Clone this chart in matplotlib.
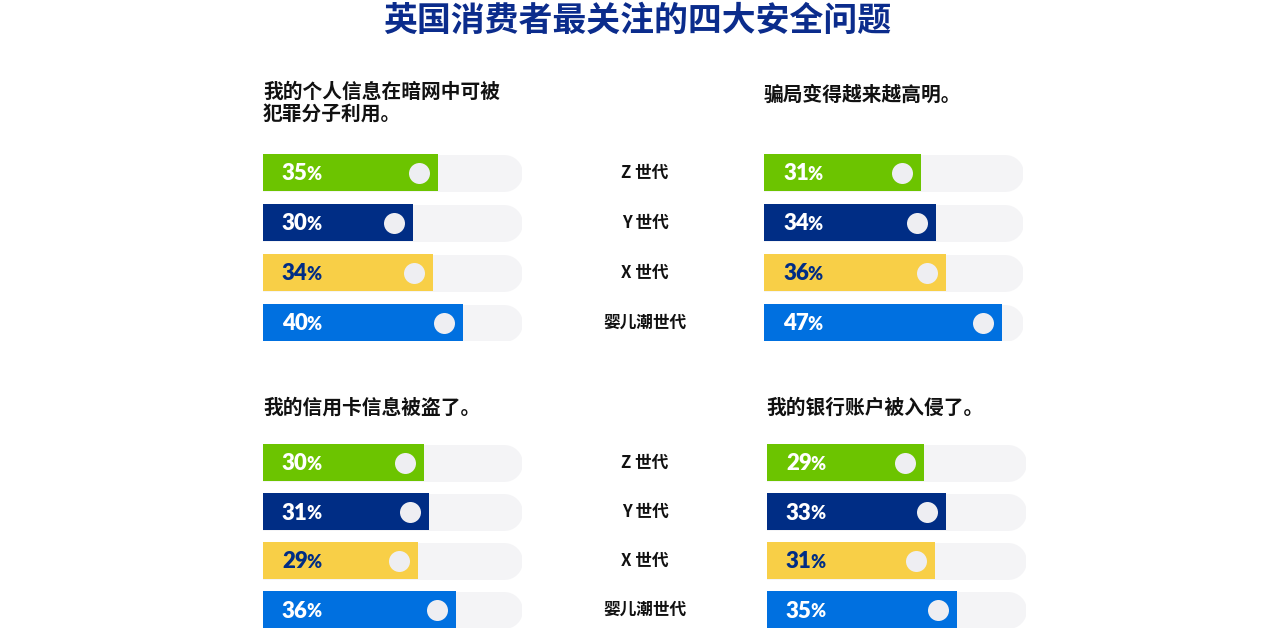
import matplotlib
matplotlib.use('Agg')
from matplotlib import pyplot as plt
from matplotlib.transforms import offset_copy

plt.rcParams['font.family'] = ['Noto Sans CJK SC', 'DejaVu Sans']

W, H, DPI = 1280, 643, 100

title = '英国消费者最关注的四大安全问题'
generations = ['Z 世代', 'Y 世代', 'X 世代', '婴儿潮世代']
panel_titles = ['我的个人信息在暗网中可被\n犯罪分子利用。',
                '骗局变得越来越高明。',
                '我的信用卡信息被盗了。',
                '我的银行账户被入侵了。']
dark_web = [35, 30, 34, 40]
scams = [31, 34, 36, 47]
credit_card = [30, 31, 29, 36]
bank_hacked = [29, 33, 31, 35]
panel_values = [dark_web, scams, credit_card, bank_hacked]
# percent reached at the right end of the grey track in each panel
track_max = [51.8, 51.1, 48.4, 47.7]

bar_colors = ['#6cc400', '#002d85', '#f8cf47', '#0070e0']
text_colors = ['white', 'white', '#002d85', 'white']
track_color = '#f4f4f6'
dot_color = '#eeeef2'
title_color = '#0b2c8c'

# pixel layout: left, top, width, height, title x, title y
panels = [(263, 154, 259, 187, 263, 103),
          (764, 154, 259, 187, 764, 95),
          (263, 444, 259, 184, 263, 408),
          (767, 444, 259, 184, 766, 408)]
bar_px = 37
dot_px = 21
pt = 72.0 / DPI

fig = plt.figure(figsize=(W / DPI, H / DPI), dpi=DPI)
fig.patch.set_facecolor('white')

fig.text(637 / W, 1 - 20 / H, title, ha='center', va='center',
         fontsize=24.4, fontweight='black', color=title_color)

for k, (left, top, width, height, tx, ty) in enumerate(panels):
    ax = fig.add_axes([left / W, 1 - (top + height) / H, width / W, height / H])
    ax.set_axis_off()
    step = (height - bar_px) / 3.0
    h = bar_px / step
    ax.set_xlim(0, track_max[k])
    ax.set_ylim(3 + h / 2, -h / 2)

    vals = panel_values[k]
    track_end = track_max[k] * (1 - (bar_px / 2.0) / width)
    for i, v in enumerate(vals):
        ax.plot([0, track_end], [i, i], color=track_color, lw=bar_px * pt,
                solid_capstyle='round', zorder=1)
        ax.barh(i, v, height=h, color=bar_colors[i], zorder=2)
        ax.plot([v], [i], 'o', ms=dot_px * pt, color=dot_color, mec='none',
                zorder=3, transform=offset_copy(ax.transData, x=-19, units='dots'))
        num = ax.text(0, i, str(v), fontsize=16, fontweight='heavy',
                      family=['Lato', 'DejaVu Sans'], color=text_colors[i],
                      ha='left', va='baseline', zorder=4,
                      transform=offset_copy(ax.transData, x=19, y=-8, units='dots'))
        ax.annotate('%', xy=(1, 0), xycoords=num, xytext=(-0.8, 0.9),
                    textcoords='offset points', fontsize=13, fontweight='heavy',
                    family=['Lato', 'DejaVu Sans'], color=text_colors[i],
                    ha='left', va='bottom', zorder=4)
        if k % 2 == 0:
            ax.annotate(generations[i], xy=(645 / W, i),
                        xycoords=('figure fraction', 'data'),
                        ha='center', va='center', fontsize=12, fontweight='bold',
                        color='#111111', annotation_clip=False)

    fig.text(tx / W, 1 - ty / H, panel_titles[k], ha='left', va='center',
             fontsize=14.2, fontweight='bold', color='#111111', linespacing=1.15)

fig.savefig('out.png', dpi=DPI, facecolor='white')
